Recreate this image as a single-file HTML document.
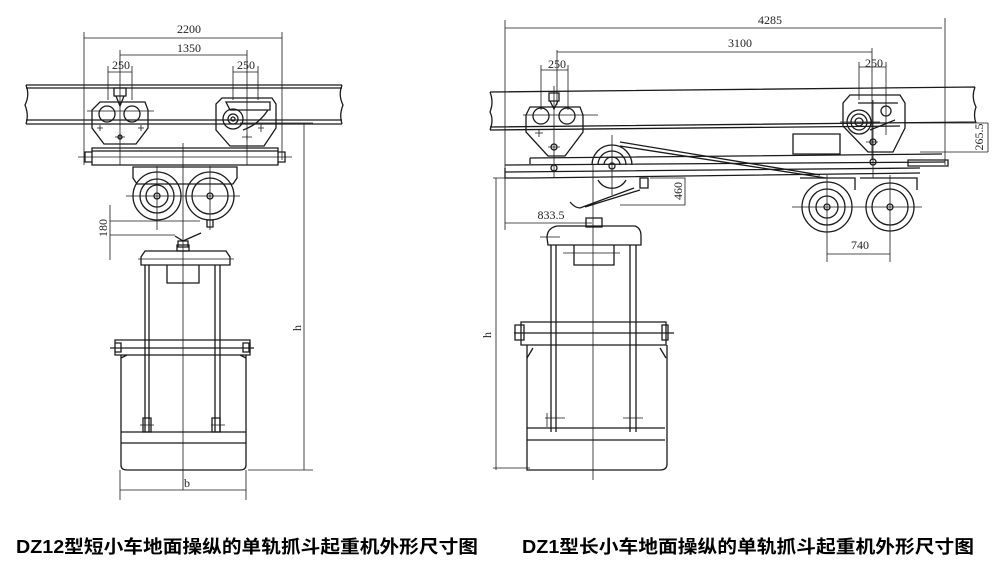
<!DOCTYPE html>
<html><head><meta charset="utf-8"><style>
html,body{margin:0;padding:0;background:#fff}
svg{display:block}
.l{fill:none;stroke:#1a1a1a;stroke-width:1.3}
.t{stroke-width:.8}
text{font-family:"Liberation Serif",serif;font-size:12px;fill:#222}
.cap{font-family:"Liberation Sans","Noto Sans CJK SC",sans-serif;font-size:18px;fill:#000;font-weight:bold}
</style></head><body>
<svg width="1000" height="575" viewBox="0 0 1000 575" xmlns="http://www.w3.org/2000/svg">
<g class="l">
<path class="t" d="M84,32V165M282,32V160M84,38H282M120,50V165M247,50V165M120,55H247M108,66V100M132,66V100M108,72H132M233,66V100M258,66V100M233,72H258"/>
<path d="M26,85H342M26,88H342M26,120H342M26,124H342M26,85q4,10 -1,20q4,10 1,19M342,85q-4,10 1,20q-4,10 -1,19"/>
<path d="M100,102H145l3,8V128l-12,16H104L92,128V110z"/>
<circle cx="107" cy="114" r="8"/><circle cx="132" cy="114" r="8"/>
<path d="M114,88h12v8h-12zM116,96l4,10l4,-10"/>
<path class="t" d="M87,111H154M97,128h6M100,125v6M138,128h6M141,125v6M115,137h10M120,134v6"/>
<circle cx="120" cy="137" r="2"/>
<path d="M222,98H272l4,6V128l-12,18H230L216,130V104z"/>
<path d="M226,102h44v8h-40z"/>
<circle cx="233" cy="119" r="10"/><circle cx="233" cy="119" r="5"/><circle cx="233" cy="119" r="2"/>
<path d="M243,130q15,-5 25,-20"/>
<path class="t" d="M258,128h6M261,124v8M242,137h10M247,134v6"/>
<path d="M92,148H278V165H92zM92,151H278M85,152h7v10h-7zM278,152h7v10h-7z"/>
<path class="t" d="M78,157H292M183,143V490"/>
<path d="M133,167H237V178l-4,6H137l-4,-6z"/>
<circle cx="157" cy="196" r="24"/><circle cx="157" cy="196" r="17"/><circle cx="157" cy="196" r="11"/><circle cx="157" cy="196" r="3"/>
<circle cx="210" cy="196" r="24"/><circle cx="210" cy="196" r="18"/><circle cx="210" cy="196" r="3"/>
<path class="t" d="M126,196H240M157,166V230M210,166V230"/>
<path d="M207,220h6v7h-6z"/>
<path class="t" d="M110,205V260M110,221H200M110,235H175"/>
<path d="M175,236l8,5l18,-8M178,241h10v6h-10zM177,245h12v6h-12z"/>
<path d="M145,251H226l4,6V265H141V257zM167,265V283H199V265"/>
<path class="t" d="M138,259H234"/>
<path d="M145,265V432M149,265V432M215,265V432M220,265V432"/>
<path class="t" d="M140,425h14M211,425h14"/>
<path d="M143,418h8v14h-8zM212,418h8v14h-8z"/>
<path d="M115,340H250V355H115zM115,343h6v9h-6zM243,343h6v9h-6zM110,348H254"/>
<path d="M121,358l6,-3V355M246,358l-6,-3M121,355V465q0,5 6,5H240q6,0 6,-5V355"/>
<path d="M121,432H246M121,443H246"/>
<path class="t" d="M120,470V500M246,470V500M120,490H246"/>
<path class="t" d="M240,123H313M248,470H313M304,123V470"/>

<path class="t" d="M505,20V230M945,18V165M505,28H942M557,50V105M872,48V160M557,52H872M541,65V110M568,65V110M541,70H568M859,62V100M886,62V100M859,67H886"/>
<path d="M490,92L975,87M490,127L975,122M490,130L900,126M490,92q4,10 0,20q4,8 0,18M975,87q-4,10 1,20q-3,8 0,16"/>
<path d="M530,107H580l3,8V132l-18,24H548L526,132V115z"/>
<circle cx="541" cy="116" r="8"/><circle cx="567" cy="116" r="8"/>
<path d="M549,93h10v8h-10zM550,101l4,8l4,-8"/>
<path class="t" d="M523,115H598M554,86V178M535,133h8M539,129v8M548,147h12"/>
<circle cx="554" cy="147" r="3"/><circle cx="554" cy="168" r="3"/>
<path d="M850,95H900l5,8V128l-12,24H868L843,126V103z"/>
<circle cx="859" cy="122" r="12"/><circle cx="859" cy="122" r="8"/><circle cx="859" cy="122" r="4"/>
<circle cx="886" cy="111" r="5"/>
<path d="M858,103h40M870,130q15,-6 25,-10"/>
<path class="t" d="M840,122H880M873,100V178M866,142h12M886,100V135"/>
<circle cx="873" cy="142" r="3"/><circle cx="873" cy="162" r="3"/>
<path d="M793,134H840V154H793z"/>
<path d="M530,158L942,154M530,158v6M505,165L945,162M505,172L920,168M530,178L920,173M505,168v10h25"/>
<path d="M908,160h40v6h-40z"/>
<path d="M592,165a20,20 0 1 1 40,0M598,165a14,14 0 1 1 28,0M604,165a8,8 0 1 1 16,0M598,180a16,16 0 0 0 28,0"/>
<circle cx="612" cy="166" r="3"/>
<path class="t" d="M612,135V195"/>
<path d="M620,142L820,175M620,146L826,178"/>
<path d="M570,202q5,6 10,6l54,-20M585,207L640,190"/>
<path d="M640,178h8v10h-8z"/>
<path class="t" d="M650,178H685V205H620M685,178V205"/>
<path d="M800,178H855V190M860,178H917V190"/>
<circle cx="827" cy="207" r="25"/><circle cx="827" cy="207" r="18"/><circle cx="827" cy="207" r="11"/><circle cx="827" cy="207" r="3"/>
<circle cx="890" cy="207" r="24"/><circle cx="890" cy="207" r="18"/><circle cx="890" cy="207" r="3"/>
<path class="t" d="M792,207H922M827,175V262M890,175V262M827,254H890"/>
<path class="t" d="M905,123H988M920,152H988M988,123V152"/>
<path class="t" d="M505,223H592"/>
<path d="M586,218h16v9h-16zM547,238q0,-10 10,-12H635q6,2 6,10V245H548zM574,245V265H614V245"/>
<path class="t" d="M540,237H560M563,253H620M593,165V480"/>
<path d="M551,245V432M556,245V432M630,245V432M636,245V432"/>
<path class="t" d="M545,418h20M623,418h20M547,413v14M630,413v14"/>
<path d="M521,322H666V345H521zM515,325h9v15h-9zM662,325h6v15h-6zM514,333H674"/>
<path d="M527,358l6,-10M666,358l-6,-10"/>
<path d="M527,345V470H660q7,0 7,-6V345"/>
<path d="M527,428H665M527,440H665"/>
<path class="t" d="M493,178H510M493,468H530M496,178V470"/>
</g>
<text x="189" y="33" text-anchor="middle">2200</text>
<text x="189" y="52" text-anchor="middle">1350</text>
<text x="121" y="69" text-anchor="middle">250</text>
<text x="246" y="69" text-anchor="middle">250</text>
<text x="0" y="0" text-anchor="middle" transform="translate(107,228) rotate(-90)">180</text>
<text x="187" y="487" text-anchor="middle">b</text>
<text x="0" y="0" text-anchor="middle" transform="translate(301,328) rotate(-90)">h</text>
<text x="770" y="24" text-anchor="middle">4285</text>
<text x="740" y="47" text-anchor="middle">3100</text>
<text x="557" y="68" text-anchor="middle">250</text>
<text x="874" y="67" text-anchor="middle">250</text>
<text x="0" y="0" text-anchor="middle" transform="translate(983,137) rotate(-90)">265.5</text>
<text x="0" y="0" text-anchor="middle" transform="translate(682,191) rotate(-90)">460</text>
<text x="551" y="219" text-anchor="middle">833.5</text>
<text x="860" y="249" text-anchor="middle">740</text>
<text x="0" y="0" text-anchor="middle" transform="translate(491,335) rotate(-90)">h</text>
<text class="cap" x="16" y="553" textLength="462" lengthAdjust="spacingAndGlyphs">DZ12型短小车地面操纵的单轨抓斗起重机外形尺寸图</text>
<text class="cap" x="522" y="553" textLength="452" lengthAdjust="spacingAndGlyphs">DZ1型长小车地面操纵的单轨抓斗起重机外形尺寸图</text>
</svg>
</body></html>
